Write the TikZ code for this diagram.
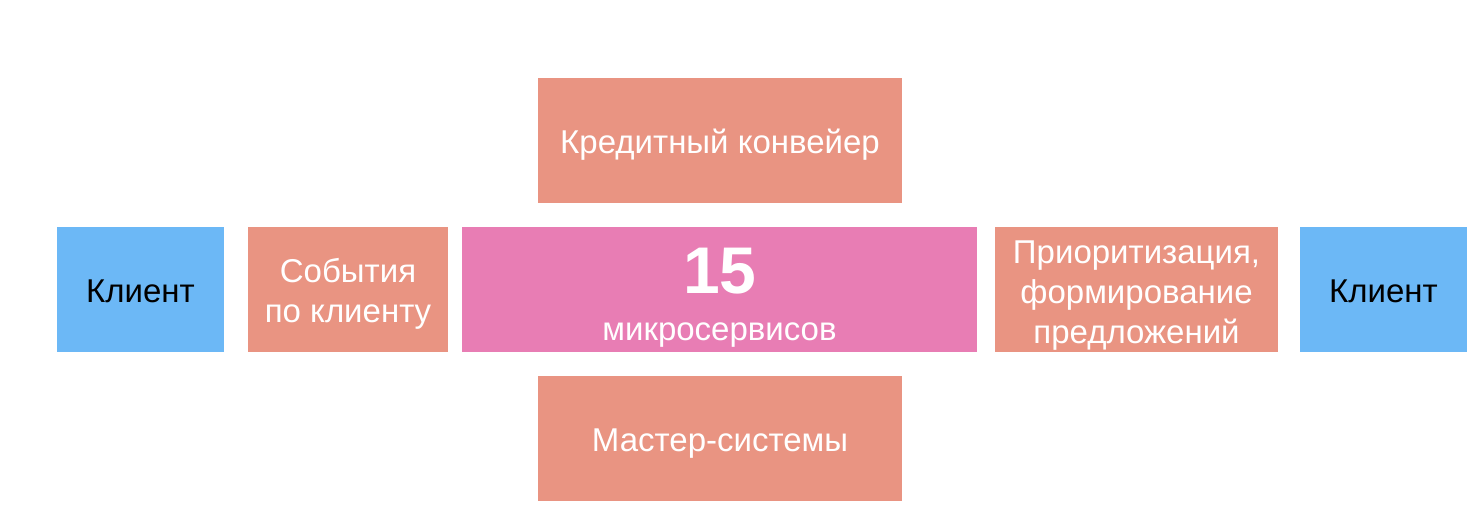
\documentclass[tikz,border=0pt]{standalone}
\usepackage{fontspec}
\setmainfont{Liberation Sans}
\definecolor{salmon}{HTML}{E99482}
\definecolor{pinkbox}{HTML}{E87DB4}
\definecolor{bluebox}{HTML}{6CB8F6}
\begin{document}
\begin{tikzpicture}[x=1pt,y=-1pt,
  box/.style={rectangle, inner sep=0pt, draw=none, minimum height=125pt},
  sbox/.style={box, fill=salmon},
  cbox/.style={box, fill=bluebox, minimum width=167pt},
  wtxt/.style={text=white, align=center, inner sep=0pt, font=\fontsize{33}{40}\selectfont},
  btxt/.style={wtxt, text=black}]
\useasboundingbox (0,0) rectangle (1472,518);
\fill[white] (0,0) rectangle (1472,518);
\node[cbox] (kl1) at (140.5,289.5) {};
\node[btxt] (kl1t) at ([yshift=-2pt]kl1.center) {Клиент};
\node[sbox, minimum width=200pt] (ev) at (348,289.5) {};
\node[wtxt] (evt) at ([yshift=-4pt]ev.center) {События\\по клиенту};
\node[box, fill=pinkbox, minimum width=515pt] (ms) at (719.5,289.5) {};
\node[text=white, font=\fontsize{66}{66}\selectfont\bfseries, inner sep=0pt] (n15) at (720,271) {15};
\node[text=white, font=\fontsize{33}{36}\selectfont, inner sep=0pt] (mst) at (719.5,335) {микросервисов};
\node[sbox, minimum width=364pt] (kk) at (720,140.5) {};
\node[wtxt] (kkt) at ([yshift=-4pt]kk.center) {Кредитный конвейер};
\node[sbox, minimum width=364pt] (mas) at (720,438.5) {};
\node[wtxt] (mast) at ([yshift=-5pt]mas.center) {Мастер-системы};
\node[sbox, minimum width=283pt] (pr) at (1136.5,289.5) {};
\node[wtxt] (prt) at ([yshift=-6pt]pr.center) {Приоритизация,\\формирование\\предложений};
\node[cbox] (kl2) at (1383.5,289.5) {};
\node[btxt] (kl2t) at ([yshift=-2pt]kl2.center) {Клиент};
\end{tikzpicture}
\end{document}
